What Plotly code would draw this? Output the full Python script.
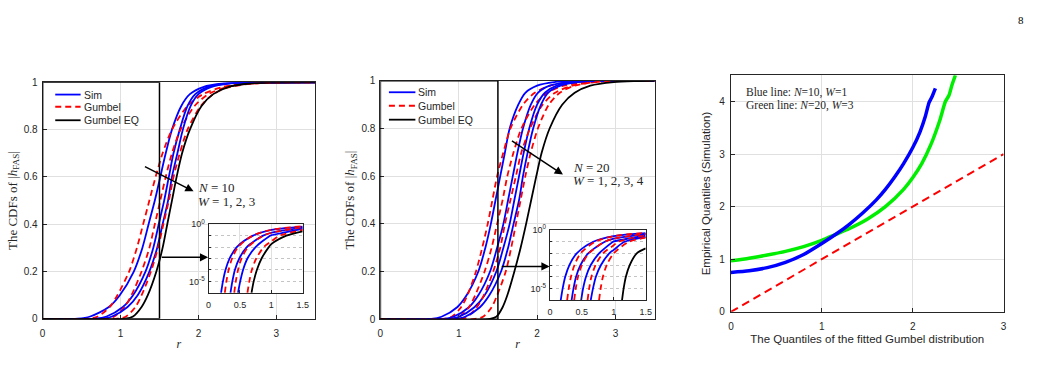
import plotly.graph_objects as go

W, H = 1037, 377

# ---------------- data ----------------
# main panels: r at which each CDF reaches these levels
CDF_LEVELS = [0.001, 0.01, 0.05, 0.1, 0.2, 0.3, 0.4, 0.5, 0.6, 0.7, 0.8, 0.9, 0.95, 0.98, 0.995, 0.999]

N10_SIM_W1 = [0.45, 0.61, 0.85, 0.99, 1.17, 1.28, 1.36, 1.44, 1.51, 1.58, 1.66, 1.78, 1.89, 2.06, 2.32, 2.65]
N10_GUM_W1 = [0.59, 0.71, 0.86, 0.96, 1.11, 1.21, 1.29, 1.37, 1.45, 1.54, 1.66, 1.86, 2.06, 2.31, 2.67, 3.04]
N10_SIM_W2 = [0.68, 0.82, 1.03, 1.16, 1.32, 1.42, 1.49, 1.56, 1.62, 1.68, 1.76, 1.86, 1.96, 2.12, 2.36, 2.68]
N10_GUM_W2 = [0.81, 0.92, 1.05, 1.14, 1.27, 1.37, 1.44, 1.51, 1.58, 1.66, 1.77, 1.95, 2.13, 2.36, 2.68, 3.01]
N10_SIM_W3 = [0.75, 0.89, 1.09, 1.22, 1.37, 1.47, 1.54, 1.61, 1.66, 1.73, 1.80, 1.90, 2.00, 2.16, 2.40, 2.72]
N10_GUM_W3 = [0.96, 1.07, 1.19, 1.27, 1.39, 1.48, 1.55, 1.62, 1.68, 1.76, 1.86, 2.03, 2.19, 2.40, 2.71, 3.01]
N10_GUM_EQ = [1.06, 1.16, 1.27, 1.35, 1.46, 1.54, 1.60, 1.66, 1.72, 1.79, 1.89, 2.04, 2.19, 2.38, 2.66, 2.94]

N20_SIM_W1 = [0.65, 0.78, 0.98, 1.10, 1.25, 1.34, 1.41, 1.47, 1.53, 1.59, 1.65, 1.76, 1.85, 2.00, 2.22, 2.50]
N20_GUM_W1 = [0.81, 0.91, 1.03, 1.11, 1.22, 1.30, 1.37, 1.43, 1.49, 1.57, 1.66, 1.82, 1.97, 2.17, 2.45, 2.74]
N20_SIM_W2 = [0.79, 0.93, 1.13, 1.25, 1.40, 1.49, 1.57, 1.63, 1.69, 1.75, 1.82, 1.92, 2.01, 2.16, 2.40, 2.68]
N20_GUM_W2 = [0.90, 1.01, 1.13, 1.21, 1.33, 1.42, 1.49, 1.56, 1.62, 1.70, 1.80, 1.97, 2.13, 2.34, 2.65, 2.95]
N20_SIM_W3 = [0.86, 1.00, 1.20, 1.33, 1.48, 1.57, 1.65, 1.71, 1.77, 1.83, 1.90, 2.00, 2.10, 2.25, 2.48, 2.76]
N20_GUM_W3 = [1.00, 1.11, 1.23, 1.32, 1.44, 1.53, 1.59, 1.66, 1.73, 1.80, 1.91, 2.07, 2.23, 2.45, 2.75, 3.05]
N20_SIM_W4 = [0.94, 1.08, 1.27, 1.39, 1.54, 1.63, 1.70, 1.77, 1.82, 1.88, 1.95, 2.05, 2.14, 2.30, 2.53, 2.82]
N20_GUM_W4 = [1.21, 1.31, 1.42, 1.49, 1.60, 1.67, 1.73, 1.79, 1.85, 1.92, 2.01, 2.15, 2.29, 2.48, 2.75, 3.01]
N20_GUM_EQ = [1.40, 1.48, 1.56, 1.62, 1.71, 1.79, 1.86, 1.925, 1.99, 2.06, 2.16, 2.32, 2.48, 2.68, 2.98, 3.27]

# insets (log CDF): r at which each curve reaches these levels, plus CDF at r = 1.0 and 1.5
INSET_LEVELS = [1e-6, 1e-5, 1e-4, 1e-3, 1e-2, 1e-1]
INSET_TAIL_R = [1.0, 1.5]

N10_IN_SIM_W1 = [0.20, 0.23, 0.27, 0.335, 0.45, 0.71]
N10_IN_SIM_W1_TAIL = [0.32, 0.63]
N10_IN_GUM_W1 = [0.26, 0.285, 0.32, 0.375, 0.47, 0.70]
N10_IN_GUM_W1_TAIL = [0.33, 0.66]
N10_IN_SIM_W2 = [0.35, 0.38, 0.42, 0.49, 0.61, 0.87]
N10_IN_SIM_W2_TAIL = [0.18, 0.50]
N10_IN_GUM_W2 = [0.41, 0.435, 0.47, 0.525, 0.63, 0.87]
N10_IN_GUM_W2_TAIL = [0.18, 0.52]
N10_IN_SIM_W3 = [0.47, 0.505, 0.55, 0.62, 0.75, 0.98]
N10_IN_SIM_W3_TAIL = [0.11, 0.40]
N10_IN_GUM_W3 = [0.62, 0.65, 0.69, 0.76, 0.88, 1.13]
N10_IN_GUM_W3_TAIL = [0.032, 0.32]
N10_IN_GUM_EQ = [0.685, 0.72, 0.77, 0.845, 0.96, 1.24]
N10_IN_GUM_EQ_TAIL = [0.018, 0.24]

N20_IN_SIM_W1 = [0.17, 0.20, 0.24, 0.305, 0.42, 0.68]
N20_IN_SIM_W1_TAIL = [0.30, 0.55]
N20_IN_GUM_W1 = [0.27, 0.295, 0.33, 0.385, 0.48, 0.71]
N20_IN_GUM_W1_TAIL = [0.30, 0.58]
N20_IN_SIM_W2 = [0.34, 0.37, 0.41, 0.48, 0.60, 0.86]
N20_IN_SIM_W2_TAIL = [0.18, 0.45]
N20_IN_GUM_W2 = [0.38, 0.405, 0.44, 0.50, 0.61, 0.86]
N20_IN_GUM_W2_TAIL = [0.18, 0.47]
N20_IN_SIM_W3 = [0.49, 0.52, 0.565, 0.64, 0.77, 0.99]
N20_IN_SIM_W3_TAIL = [0.105, 0.34]
N20_IN_GUM_W3 = [0.59, 0.615, 0.65, 0.715, 0.83, 1.07]
N20_IN_GUM_W3_TAIL = [0.05, 0.34]
N20_IN_SIM_W4 = [0.64, 0.675, 0.72, 0.80, 0.93, 1.17]
N20_IN_SIM_W4_TAIL = [0.02, 0.25]
N20_IN_GUM_W4 = [0.77, 0.795, 0.83, 0.89, 1.00, 1.24]
N20_IN_GUM_W4_TAIL = [None, 0.22]
N20_IN_GUM_EQ = [1.13, 1.155, 1.19, 1.25, 1.36, None]
N20_IN_GUM_EQ_TAIL = [None, 0.027]

# Q-Q plot
QQ_BLUE_X = [0.0, 0.2, 0.4, 0.6, 0.8, 1.0, 1.15, 1.3, 1.45, 1.6, 1.7, 1.8, 1.9, 2.0, 2.08, 2.14, 2.18, 2.21, 2.25]
QQ_BLUE_Y = [0.75, 0.78, 0.84, 0.94, 1.09, 1.30, 1.47, 1.66, 1.88, 2.13, 2.33, 2.56, 2.82, 3.12, 3.42, 3.72, 3.98, 4.08, 4.25]
QQ_GREEN_X = [0.0, 0.2, 0.4, 0.6, 0.8, 1.0, 1.15, 1.3, 1.5, 1.7, 1.9, 2.0, 2.1, 2.2, 2.3, 2.36, 2.4, 2.43, 2.47]
QQ_GREEN_Y = [0.97, 1.02, 1.08, 1.15, 1.24, 1.36, 1.47, 1.58, 1.76, 2.0, 2.33, 2.55, 2.82, 3.18, 3.65, 4.0, 4.12, 4.3, 4.5]
QQ_REF_X = [0, 3]
QQ_REF_Y = [0, 3]

LEGEND_LABELS = ['Sim', 'Gumbel', 'Gumbel EQ']

BLUE, RED, BLACK, GREEN = '#0000ff', '#ff0000', '#000000', '#00ee00'
AXC = '#262626'
GRID = '#e0e0e0'
SANS = 'Liberation Sans, Arial, sans-serif'
SERIF = 'Liberation Serif, Times New Roman, serif'
RDASH = '6px,4px'


def X(px):
    return px / W


def Y(py):
    return 1 - py / H


fig = go.Figure()


def main_trace(rs, color, dash, xa, ya):
    x = [0.0] + list(rs) + [3.5]
    y = [0.0] + CDF_LEVELS + [1.0]
    fig.add_trace(go.Scatter(x=x, y=y, mode='lines', xaxis=xa, yaxis=ya, showlegend=False,
                             hoverinfo='skip',
                             line=dict(color=color, width=1.8, dash=dash, shape='spline', smoothing=0.8)))


def inset_trace(rs, tails, color, dash, xa, ya):
    pts = [(r, l) for r, l in zip(rs, INSET_LEVELS) if r is not None]
    pts += [(r, v) for r, v in zip(INSET_TAIL_R, tails) if v is not None]
    pts.sort()
    fig.add_trace(go.Scatter(x=[p[0] for p in pts], y=[p[1] for p in pts], mode='lines',
                             xaxis=xa, yaxis=ya, showlegend=False, hoverinfo='skip',
                             line=dict(color=color, width=1.8, dash=dash, shape='spline', smoothing=0.8)))


# panel 1
for s, g in [(N10_SIM_W1, N10_GUM_W1), (N10_SIM_W2, N10_GUM_W2), (N10_SIM_W3, N10_GUM_W3)]:
    main_trace(s, BLUE, 'solid', 'x', 'y')
    main_trace(g, RED, RDASH, 'x', 'y')
main_trace(N10_GUM_EQ, BLACK, 'solid', 'x', 'y')

# panel 2
for s, g in [(N20_SIM_W1, N20_GUM_W1), (N20_SIM_W2, N20_GUM_W2), (N20_SIM_W3, N20_GUM_W3), (N20_SIM_W4, N20_GUM_W4)]:
    main_trace(s, BLUE, 'solid', 'x2', 'y2')
    main_trace(g, RED, RDASH, 'x2', 'y2')
main_trace(N20_GUM_EQ, BLACK, 'solid', 'x2', 'y2')

# panel 3
fig.add_trace(go.Scatter(x=QQ_REF_X, y=QQ_REF_Y, mode='lines', xaxis='x3', yaxis='y3', showlegend=False,
                         line=dict(color=RED, width=2, dash='8px,5px'), hoverinfo='skip'))
fig.add_trace(go.Scatter(x=QQ_GREEN_X, y=QQ_GREEN_Y, mode='lines', xaxis='x3', yaxis='y3', showlegend=False,
                         line=dict(color=GREEN, width=3.5, shape='spline', smoothing=0.6), hoverinfo='skip'))
fig.add_trace(go.Scatter(x=QQ_BLUE_X, y=QQ_BLUE_Y, mode='lines', xaxis='x3', yaxis='y3', showlegend=False,
                         line=dict(color=BLUE, width=3.5, shape='spline', smoothing=0.6), hoverinfo='skip'))

# inset 1
for (s, st), (g, gt) in [((N10_IN_SIM_W1, N10_IN_SIM_W1_TAIL), (N10_IN_GUM_W1, N10_IN_GUM_W1_TAIL)),
                         ((N10_IN_SIM_W2, N10_IN_SIM_W2_TAIL), (N10_IN_GUM_W2, N10_IN_GUM_W2_TAIL)),
                         ((N10_IN_SIM_W3, N10_IN_SIM_W3_TAIL), (N10_IN_GUM_W3, N10_IN_GUM_W3_TAIL))]:
    inset_trace(s, st, BLUE, 'solid', 'x4', 'y4')
    inset_trace(g, gt, RED, RDASH, 'x4', 'y4')
inset_trace(N10_IN_GUM_EQ, N10_IN_GUM_EQ_TAIL, BLACK, 'solid', 'x4', 'y4')

# inset 2
for (s, st), (g, gt) in [((N20_IN_SIM_W1, N20_IN_SIM_W1_TAIL), (N20_IN_GUM_W1, N20_IN_GUM_W1_TAIL)),
                         ((N20_IN_SIM_W2, N20_IN_SIM_W2_TAIL), (N20_IN_GUM_W2, N20_IN_GUM_W2_TAIL)),
                         ((N20_IN_SIM_W3, N20_IN_SIM_W3_TAIL), (N20_IN_GUM_W3, N20_IN_GUM_W3_TAIL)),
                         ((N20_IN_SIM_W4, N20_IN_SIM_W4_TAIL), (N20_IN_GUM_W4, N20_IN_GUM_W4_TAIL))]:
    inset_trace(s, st, BLUE, 'solid', 'x5', 'y5')
    inset_trace(g, gt, RED, RDASH, 'x5', 'y5')
inset_trace(N20_IN_GUM_EQ, N20_IN_GUM_EQ_TAIL, BLACK, 'solid', 'x5', 'y5')


def ax_style(**kw):
    d = dict(showline=True, mirror=True, linecolor=AXC, linewidth=1, ticks='inside', ticklen=4,
             tickcolor=AXC, showgrid=True, gridcolor=GRID, gridwidth=1, zeroline=False,
             tickfont=dict(family=SANS, size=10, color=AXC), fixedrange=True)
    d.update(kw)
    return d


def log_inset_y(dom):
    return ax_style(domain=dom, type='log', range=[-6, 0],
                    tickvals=[1e-5, 1], ticktext=['10<sup>-5</sup>', '10<sup>0</sup>'],
                    ticklen=2, showgrid=False, ticklabelstandoff=1,
                    minor=dict(tickvals=[1e-6, 1e-5, 1e-4, 1e-3, 1e-2, 1e-1], showgrid=True,
                               griddash='dot', gridcolor='#c4c4c4', ticks='inside', ticklen=2, tickcolor=AXC),
                    tickfont=dict(family=SANS, size=9, color=AXC))


TITLE_SERIF = dict(family=SERIF, size=12, color=AXC)
YTITLE_SERIF = dict(family=SERIF, size=13, color=AXC)

layout = dict(
    width=W, height=H, margin=dict(l=0, r=0, t=0, b=0),
    paper_bgcolor='white', plot_bgcolor='white', showlegend=False,
    xaxis=ax_style(domain=[X(40), X(315)], range=[0, 3.5], tickvals=[0, 1, 2, 3], anchor='y',
                   ticklabelstandoff=5,
                   title=dict(text='<i>r</i>', font=TITLE_SERIF, standoff=1)),
    yaxis=ax_style(domain=[Y(323), Y(78)], range=[0, 1], dtick=0.2, anchor='x', ticklabelstandoff=2,
                   title=dict(text='The CDFs of |<i>h</i><sub>FAS</sub>|', font=YTITLE_SERIF, standoff=3)),
    xaxis2=ax_style(domain=[X(380.7), X(657.3)], range=[0, 3.5], tickvals=[0, 1, 2, 3], anchor='y2',
                    ticklabelstandoff=5,
                    title=dict(text='<i>r</i>', font=TITLE_SERIF, standoff=1)),
    yaxis2=ax_style(domain=[Y(323.3), Y(76.5)], range=[0, 1], dtick=0.2, anchor='x2', ticklabelstandoff=2,
                    title=dict(text='The CDFs of |<i>h</i><sub>FAS</sub>|', font=YTITLE_SERIF, standoff=3)),
    xaxis3=ax_style(domain=[X(734.3), X(1009.3)], range=[0, 3], tickvals=[0, 1, 2, 3], anchor='y3',
                    ticklabelstandoff=5,
                    title=dict(text='The Quantiles of the fitted Gumbel distribution',
                               font=dict(family=SANS, size=11.5, color=AXC), standoff=4)),
    yaxis3=ax_style(domain=[Y(315.7), Y(70.7)], range=[0, 4.5], tickvals=[0, 1, 2, 3, 4], anchor='x3',
                    ticklabelstandoff=3,
                    title=dict(text='Empirical Quantiles (Simulation)',
                               font=dict(family=SANS, size=11.5, color=AXC), standoff=6)),
    xaxis4=ax_style(domain=[X(207.3), X(302.3)], range=[0, 1.5], tickvals=[0, 0.5, 1, 1.5], anchor='y4',
                    ticklen=3, ticklabelstandoff=3, tickfont=dict(family=SANS, size=9, color=AXC)),
    yaxis4=log_inset_y([Y(296), Y(225)]) | dict(anchor='x4'),
    xaxis5=ax_style(domain=[X(551.7), X(648.3)], range=[0, 1.5], tickvals=[0, 0.5, 1, 1.5], anchor='y5',
                    ticklen=3, ticklabelstandoff=3, tickfont=dict(family=SANS, size=9, color=AXC)),
    yaxis5=log_inset_y([Y(303.5), Y(231)]) | dict(anchor='x5'),
)
fig.update_layout(**layout)

shapes = [
    dict(type='rect', xref='x', yref='y', x0=0, x1=1.5, y0=0, y1=1, line=dict(color=BLACK, width=1.5), layer='above'),
    dict(type='rect', xref='x2', yref='y2', x0=0, x1=1.5, y0=0, y1=1, line=dict(color=BLACK, width=1.5), layer='above'),
]
annotations = []


def legend(x0, x1, xt, rows):
    styles = [(BLUE, 'solid'), (RED, RDASH), (BLACK, 'solid')]
    for label, (color, dash), ry in zip(LEGEND_LABELS, styles, rows):
        shapes.append(dict(type='line', xref='paper', yref='paper', x0=X(x0), x1=X(x1), y0=Y(ry), y1=Y(ry),
                           line=dict(color=color, width=1.8, dash=dash)))
        annotations.append(dict(xref='paper', yref='paper', x=X(xt), y=Y(ry), text=label, showarrow=False,
                                xanchor='left', yanchor='middle', font=dict(family=SANS, size=10.5, color=AXC)))


legend(52.7, 78.3, 80, [90.7, 103.3, 117.3])
legend(389.3, 416, 417, [88.3, 102.3, 116.7])

arrow = dict(showarrow=True, arrowhead=2, arrowsize=1.1, arrowwidth=1.5, arrowcolor=BLACK, text='',
             standoff=0, startstandoff=0)
annotations += [
    dict(arrow, xref='x', yref='y', axref='x', ayref='y', x=1.938, y=0.539, ax=1.294, ay=0.647),
    dict(arrow, xref='x', yref='y', axref='x', ayref='y', x=2.125, y=0.26, ax=1.51, ay=0.26),
    dict(arrow, xref='x2', yref='y2', axref='x2', ayref='y2', x=2.33, y=0.607, ax=1.66, ay=0.752),
    dict(arrow, xref='x2', yref='y2', axref='x2', ayref='y2', x=2.16, y=0.221, ax=1.53, ay=0.221),
]


def text_line(xref, yref, x, y, text, size):
    annotations.append(dict(xref=xref, yref=yref, x=x, y=y, text=text, showarrow=False,
                            xanchor='left', yanchor='middle', align='left',
                            font=dict(family=SERIF, size=size, color=AXC)))


# N/W labels (positions in pixels converted to paper)
text_line('paper', 'paper', X(195), Y(187), '<i>N</i> = 10', 13)
text_line('paper', 'paper', X(195), Y(201), '<i>W</i> = 1, 2, 3', 13)
text_line('paper', 'paper', X(573), Y(166), '<i>N</i> = 20', 13)
text_line('paper', 'paper', X(573), Y(179.5), '<i>W</i> = 1, 2, 3, 4', 13)
text_line('paper', 'paper', X(747), Y(89), 'Blue line: <i>N</i>=10, <i>W</i>=1', 11.5)
text_line('paper', 'paper', X(747), Y(102.5), 'Green line: <i>N</i>=20, <i>W</i>=3', 11.5)

annotations.append(dict(xref='paper', yref='paper', x=X(1027), y=Y(13), text='8', showarrow=False,
                        xanchor='center', yanchor='middle', font=dict(family=SERIF, size=11, color='#000000')))
fig.update_layout(shapes=shapes, annotations=annotations)

fig.write_html('out.html')
